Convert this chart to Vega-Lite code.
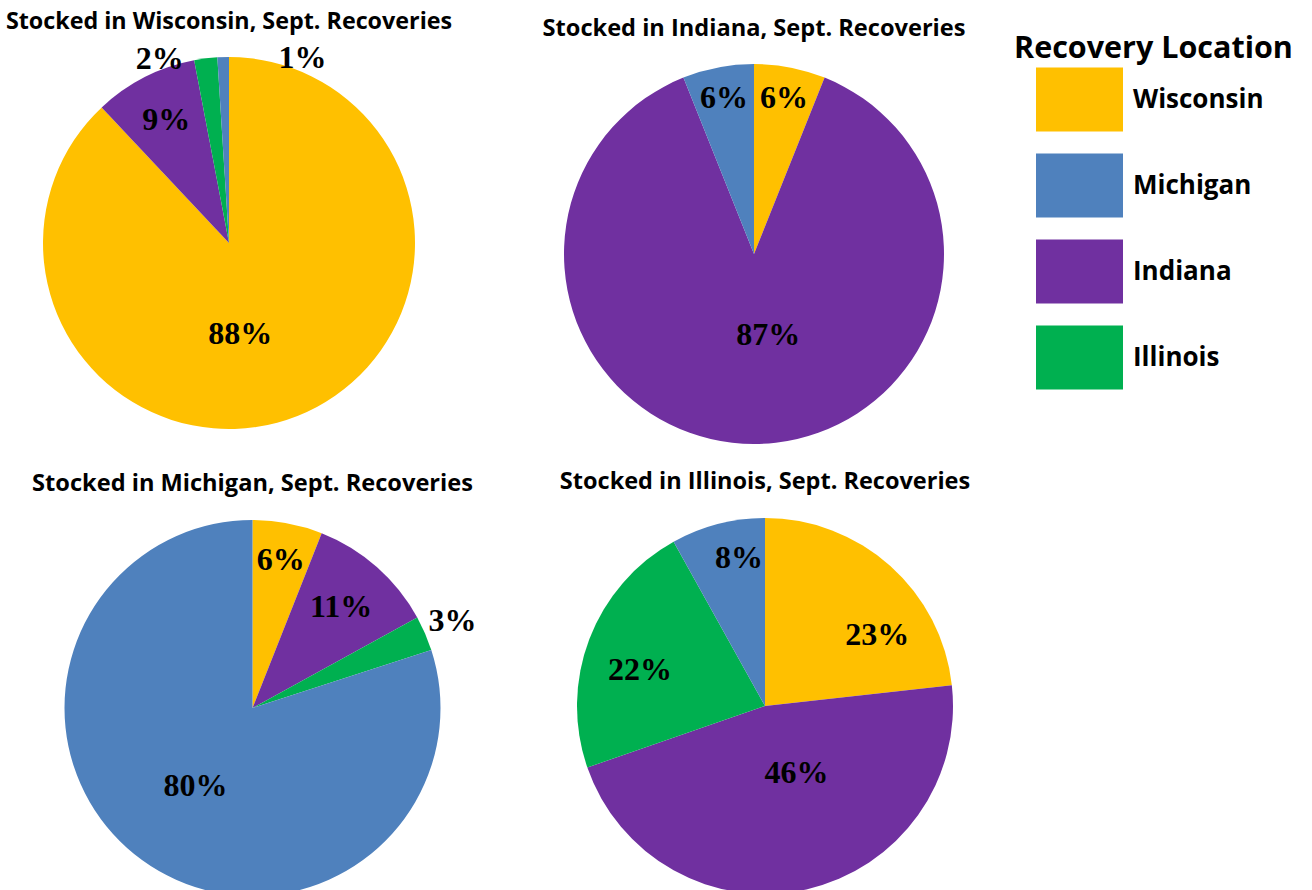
{
  "$schema": "https://vega.github.io/schema/vega-lite/v6.json",
  "background": "white",
  "padding": {"left": 5, "top": 10, "right": 5, "bottom": 5},
  "data": {
    "values": [
      {"stocked": "Wisconsin", "loc": "Wisconsin", "pct": 0.88},
      {"stocked": "Wisconsin", "loc": "Indiana", "pct": 0.09},
      {"stocked": "Wisconsin", "loc": "Illinois", "pct": 0.02},
      {"stocked": "Wisconsin", "loc": "Michigan", "pct": 0.01},
      {"stocked": "Indiana", "loc": "Wisconsin", "pct": 0.06},
      {"stocked": "Indiana", "loc": "Indiana", "pct": 0.87},
      {"stocked": "Indiana", "loc": "Michigan", "pct": 0.06},
      {"stocked": "Michigan", "loc": "Wisconsin", "pct": 0.06},
      {"stocked": "Michigan", "loc": "Indiana", "pct": 0.11},
      {"stocked": "Michigan", "loc": "Illinois", "pct": 0.03},
      {"stocked": "Michigan", "loc": "Michigan", "pct": 0.80},
      {"stocked": "Illinois", "loc": "Wisconsin", "pct": 0.23},
      {"stocked": "Illinois", "loc": "Indiana", "pct": 0.46},
      {"stocked": "Illinois", "loc": "Illinois", "pct": 0.22},
      {"stocked": "Illinois", "loc": "Michigan", "pct": 0.08}
    ]
  },
  "transform": [
    {"calculate": "indexof(['Wisconsin','Indiana','Illinois','Michigan'], datum.loc)", "as": "k"}
  ],
  "config": {
    "view": {"stroke": null},
    "title": {"font": "Open Sans", "fontWeight": "bold", "color": "black", "anchor": "middle", "frame": "group", "baseline": "alphabetic", "limit": 600},
    "text": {"font": "Liberation Serif", "fontWeight": "bold", "fontSize": 32, "color": "black"},
    "legend": {
      "orient": "none", "legendX": 951, "legendY": -43.5,
      "titleFont": "Open Sans", "titleFontSize": 30.5, "titleFontWeight": "bold", "titleColor": "black", "titleLimit": 600,
      "labelFont": "Open Sans", "labelFontSize": 26, "labelFontWeight": "bold", "labelColor": "black", "labelLimit": 400,
      "symbolType": "M-1,-0.736H1V0.736H-1Z", "symbolSize": 7569, "symbolStrokeWidth": 0, "symbolOpacity": 1,
      "rowPadding": 10, "labelOffset": 10, "symbolOffset": 22, "titlePadding": -8, "padding": 20
    }
  },
  "resolve": {"scale": {"color": "shared"}},
  "spacing": 18,
  "vconcat": [
    {
      "bounds": "flush",
      "spacing": 149,
      "hconcat": [
        {
          "width": 372, "height": 372,
          "title": {"text": "Stocked in Wisconsin, Sept. Recoveries", "offset": -6.5, "fontSize": 23.3},
          "transform": [{"filter": "datum.stocked === 'Wisconsin'"}],
          "encoding": {
            "theta": {"field": "pct", "type": "quantitative", "stack": true},
            "order": {"field": "k", "type": "quantitative"},
            "radius": {"field": "pct", "type": "quantitative", "scale": {"type": "linear", "zero": false, "domain": [0.01, 0.02, 0.09, 0.88], "range": [199, 197, 138, 92]}},
            "detail": {"field": "loc", "type": "nominal"}
          },
          "layer": [
            {
              "mark": {"type": "arc", "outerRadius": 186},
              "encoding": {
                "radius": null,
                "color": {
                  "field": "loc", "type": "nominal",
                  "scale": {"domain": ["Wisconsin", "Michigan", "Indiana", "Illinois"], "range": ["#FFC000", "#4F81BD", "#7030A0", "#00B050"]},
                  "legend": {"title": "Recovery Location"}
                }
              }
            },
            {
              "mark": {"type": "text"},
              "encoding": {
                "text": {"condition": {"test": "datum.loc !== 'Indiana'", "value": ""}, "field": "pct", "type": "quantitative", "format": ".0%"}
              }
            },
            {
              "mark": {"type": "text", "thetaOffset": 0.255},
              "encoding": {
                "text": {"condition": {"test": "datum.loc !== 'Wisconsin'", "value": ""}, "field": "pct", "type": "quantitative", "format": ".0%"}
              }
            },
            {
              "mark": {"type": "text", "thetaOffset": 0.41},
              "encoding": {
                "text": {"condition": {"test": "datum.loc !== 'Michigan'", "value": ""}, "field": "pct", "type": "quantitative", "format": ".0%"}
              }
            },
            {
              "mark": {"type": "text", "thetaOffset": -0.234},
              "encoding": {
                "text": {"condition": {"test": "datum.loc !== 'Illinois'", "value": ""}, "field": "pct", "type": "quantitative", "format": ".0%"}
              }
            }
          ]
        },
        {
          "width": 380, "height": 394,
          "title": {"text": "Stocked in Indiana, Sept. Recoveries", "offset": 16, "fontSize": 23.6},
          "transform": [{"filter": "datum.stocked === 'Indiana'"}],
          "encoding": {
            "theta": {"field": "pct", "type": "quantitative", "stack": true},
            "order": {"field": "k", "type": "quantitative"},
            "radius": {"field": "pct", "type": "quantitative", "scale": {"type": "linear", "zero": false, "domain": [0.06, 0.87], "range": [159, 82]}},
            "detail": {"field": "loc", "type": "nominal"}
          },
          "layer": [
            {
              "mark": {"type": "arc", "outerRadius": 190},
              "encoding": {"radius": null, "color": {"field": "loc", "type": "nominal"}}
            },
            {
              "mark": {"type": "text"},
              "encoding": {
                "text": {"condition": {"test": "datum.loc === 'Indiana'", "value": ""}, "field": "pct", "type": "quantitative", "format": ".0%"}
              }
            },
            {
              "mark": {"type": "text", "thetaOffset": -0.175},
              "encoding": {
                "text": {"condition": {"test": "datum.loc !== 'Indiana'", "value": ""}, "field": "pct", "type": "quantitative", "format": ".0%"}
              }
            }
          ]
        }
      ]
    },
    {
      "bounds": "flush",
      "spacing": 115,
      "hconcat": [
        {
          "width": 419, "height": 380,
          "title": {"text": "Stocked in Michigan, Sept. Recoveries", "offset": 22, "fontSize": 23.6},
          "transform": [{"filter": "datum.stocked === 'Michigan'"}],
          "encoding": {
            "theta": {"field": "pct", "type": "quantitative", "stack": true},
            "order": {"field": "k", "type": "quantitative"}
          },
          "layer": [
            {
              "mark": {"type": "arc", "outerRadius": 188},
              "encoding": {"color": {"field": "loc", "type": "nominal"}}
            },
            {
              "mark": {"type": "text"},
              "encoding": {
                "detail": {"field": "loc", "type": "nominal"},
                "radius": {"field": "pct", "type": "quantitative", "scale": {"type": "linear", "zero": false, "domain": [0.03, 0.06, 0.11, 0.8], "range": [218, 151, 134, 97]}},
                "text": {"field": "pct", "type": "quantitative", "format": ".0%"}
              }
            }
          ]
        },
        {
          "width": 376, "height": 376,
          "title": {"text": "Stocked in Illinois, Sept. Recoveries", "offset": 25, "fontSize": 23.5},
          "transform": [{"filter": "datum.stocked === 'Illinois'"}],
          "encoding": {
            "theta": {"field": "pct", "type": "quantitative", "stack": true},
            "order": {"field": "k", "type": "quantitative"},
            "radius": {"field": "pct", "type": "quantitative", "scale": {"type": "linear", "zero": false, "domain": [0.08, 0.22, 0.23, 0.46], "range": [150, 130, 133, 74]}},
            "detail": {"field": "loc", "type": "nominal"}
          },
          "layer": [
            {
              "mark": {"type": "arc", "outerRadius": 188},
              "encoding": {"radius": null, "color": {"field": "loc", "type": "nominal"}}
            },
            {
              "mark": {"type": "text", "thetaOffset": 0.276},
              "encoding": {
                "text": {"condition": {"test": "datum.loc !== 'Wisconsin'", "value": ""}, "field": "pct", "type": "quantitative", "format": ".0%"}
              }
            },
            {
              "mark": {"type": "text", "thetaOffset": -0.218},
              "encoding": {
                "text": {"condition": {"test": "datum.loc !== 'Indiana'", "value": ""}, "field": "pct", "type": "quantitative", "format": ".0%"}
              }
            },
            {
              "mark": {"type": "text", "thetaOffset": -0.087},
              "encoding": {
                "text": {"condition": {"test": "datum.loc !== 'Illinois'", "value": ""}, "field": "pct", "type": "quantitative", "format": ".0%"}
              }
            },
            {
              "mark": {"type": "text", "thetaOffset": 0.079},
              "encoding": {
                "text": {"condition": {"test": "datum.loc !== 'Michigan'", "value": ""}, "field": "pct", "type": "quantitative", "format": ".0%"}
              }
            }
          ]
        }
      ]
    }
  ]
}
